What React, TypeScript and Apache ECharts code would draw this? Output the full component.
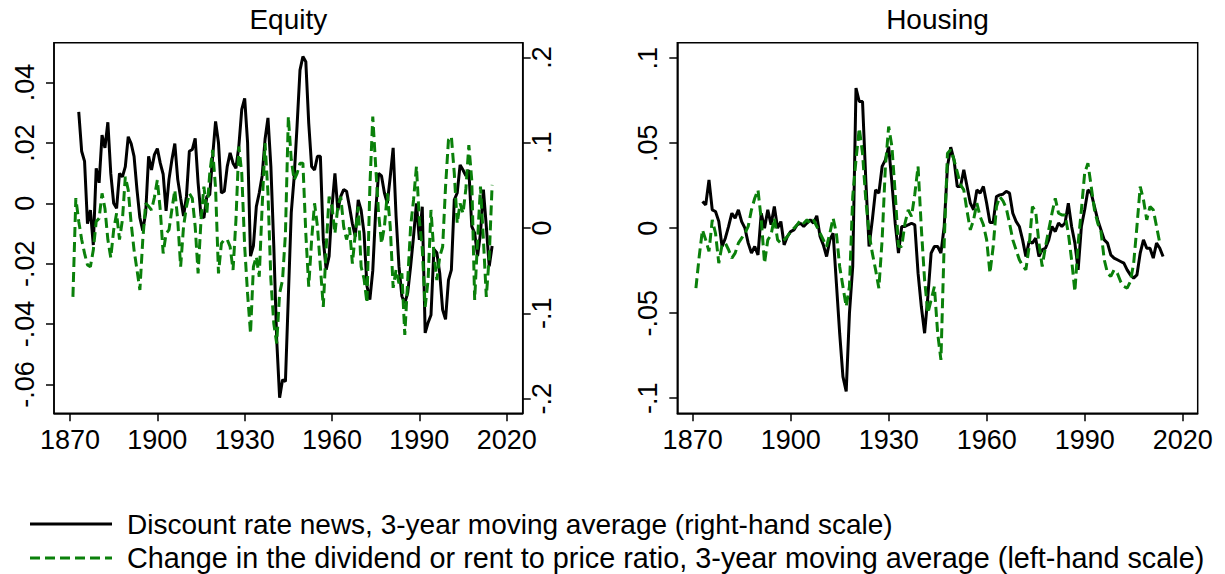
import React, { useEffect, useRef } from "react";
import * as echarts from "echarts";

const FONT = "'Liberation Sans', Arial, Helvetica, sans-serif";

// ---- tick values and labels ----
const yearTicks = [1870, 1900, 1930, 1960, 1990, 2020];
const equityLeftTicks = [-0.06, -0.04, -0.02, 0, 0.02, 0.04];
const equityLeftLabels = ["-.06", "-.04", "-.02", "0", ".02", ".04"];
const equityRightTicks = [-0.2, -0.1, 0, 0.1, 0.2];
const equityRightLabels = ["-.2", "-.1", "0", ".1", ".2"];
const housingTicks = [-0.1, -0.05, 0, 0.05, 0.1];
const housingLabels = ["-.1", "-.05", "0", ".05", ".1"];

const panelTitles = ["Equity", "Housing"];
const newsName = "Discount rate news, 3-year moving average (right-hand scale)";
const ratioName =
  "Change in the dividend or rent to price ratio, 3-year moving average (left-hand scale)";

// ---- Equity: discount rate news (right-hand scale), annual from 1873 ----
const equityNewsStart = 1873;
const equityNews = [
  0.136, 0.09, 0.078, 0.005, 0.021, -0.02, 0.07,
  0.053, 0.109, 0.094, 0.124, 0.064, 0.029, 0.023, 0.064, 0.06, 0.072,
  0.107, 0.099, 0.084, 0.045, 0.012, -0.003, 0.018, 0.084, 0.068, 0.086,
  0.093, 0.076, 0.063, 0.02, 0.057, 0.08, 0.099, 0.057, 0.035, 0.014,
  0.037, 0.09, 0.092, 0.105, 0.053, 0.014, 0.012, 0.037, 0.039, 0.084,
  0.125, 0.1, 0.041, 0.043, 0.072, 0.088, 0.076, 0.07, 0.096, 0.139,
  0.152, 0.1, -0.033, -0.021, 0.025, 0.041, 0.061, 0.104, 0.129, 0.072,
  -0.021, -0.131, -0.199, -0.178, -0.18, -0.08, 0.018, 0.06, 0.12, 0.185,
  0.201, 0.195, 0.123, 0.072, 0.068, 0.084, 0.084, -0.014, -0.049, -0.033,
  0.025, 0.064, 0.021, 0.037, 0.045, 0.043, 0.025, 0.005, -0.01, 0.033,
  0.021, -0.006, -0.068, -0.084, -0.05, 0.02, 0.064, 0.061, 0.041, 0.029,
  0.06, 0.094, 0.014, -0.045, -0.08, -0.088, -0.076, -0.045, -0.01, 0.029,
  -0.014, 0.025, -0.123, -0.111, -0.102, -0.025, -0.029, -0.053, -0.096, -0.107,
  -0.061, -0.049, 0.033, 0.041, 0.074, 0.068, 0.061, 0.068, 0.002, -0.006,
  -0.033, -0.006, 0.045, 0.002, -0.045, -0.021,
];

// ---- Equity: change in dividend-price ratio (left-hand scale), annual from 1871 ----
const equityRatioStart = 1871;
const equityRatio = [
  -0.031, 0.0017, -0.006, -0.012, -0.0166, -0.0204, -0.021, -0.0155, -0.006,
  -0.005, 0.0033, -0.0017, -0.012, -0.018, -0.0088, -0.0033, -0.012, -0.0055, 0.0088,
  0.0044, -0.0066, -0.0155, -0.022, -0.0287, -0.012, 0, -0.001, -0.0022, 0.002,
  0.0077, -0.0022, -0.0166, -0.01, -0.0088, -0.002, 0.0044, -0.0055, -0.021, -0.0077,
  -0.0011, 0.0033, 0.0017, -0.0077, -0.0232, -0.0055, 0.0055, -0.0033, 0.0099, 0.0177,
  0.005, -0.0232, -0.0133, -0.012, -0.012, -0.0144, -0.0221, -0.0055, 0.0188, 0.0099,
  -0.0144, -0.03, -0.0431, -0.021, -0.0177, -0.0243, -0.0011, 0.0199, 0.0033, -0.0254,
  -0.0398, -0.0464, -0.0298, -0.0254, -0.01, 0.0287, 0.0144, 0.0077, 0.0099, 0.0133,
  0.0133, -0.01, -0.0276, -0.012, 0, -0.0077, -0.021, -0.0343, -0.0144, 0.0022,
  -0.0011, -0.01, -0.0011, 0.0022, -0.0077, -0.012, -0.008, -0.02, -0.01, -0.0011,
  -0.021, -0.025, -0.033, 0.0055, 0.0287, 0.0122, -0.0033, -0.0133, -0.0077, 0.0033,
  -0.0077, -0.028, -0.022, -0.0265, -0.0232, -0.0436, -0.0254, -0.0077, 0.0011, 0.0122,
  -0.0055, -0.015, -0.0343, -0.0254, -0.0022, -0.0166, -0.0254, -0.0177, -0.0144, 0.0055,
  0.021, 0.0221, 0.0099, -0.0066, 0, -0.0033, 0.005, 0.0193, 0.0077, -0.032,
  -0.012, 0.0055, -0.012, -0.031, -0.0177, 0.0061,
];

// ---- Housing: discount rate news, annual from 1873 ----
const housingNewsStart = 1873;
const housingNews = [
  0.0157, 0.0137, 0.0284, 0.0108, 0.0098, 0.004, -0.0108,
  -0.0059, 0.001, 0.0088, 0.0059, 0.0108, 0.0039, 0, -0.0088, -0.0147, -0.0108,
  -0.0157, 0.0088, 0, 0.0108, 0.002, 0.0127, 0, 0.0039, -0.0098, -0.0049,
  -0.002, -0.001, 0.002, 0.0029, 0.001, 0.003, 0.0049, 0.003, 0.0073, -0.0049,
  -0.0098, -0.0167, -0.0069, -0.003, -0.0324, -0.0618, -0.0873, -0.0961, -0.05, -0.0225,
  0.0824, 0.0745, 0.0745, 0.0284, -0.0108, 0.0049, 0.0225, 0.0206, 0.0363, 0.0402,
  0.048, 0.0265, 0.0029, -0.0147, 0.001, 0.001, 0.002, 0.0029, 0.002, -0.0265,
  -0.0461, -0.0618, -0.0402, -0.0147, -0.0108, -0.0108, -0.0147, 0.001, 0.0363, 0.0476,
  0.0402, 0.0245, 0.0245, 0.0343, 0.0245, 0.0147, 0.0108, 0.0225, 0.0206, 0.0245,
  0.0147, 0.0033, 0.0033, 0.0186, 0.0196, 0.02, 0.0216, 0.0206, 0.0088, 0.004,
  0.001, -0.0069, -0.0167, -0.0078, -0.0088, -0.0059, -0.0167, -0.0127, -0.0118, -0.0069,
  0.001, -0.002, 0.003, 0.001, 0.003, 0.0147, 0.001, -0.0088, -0.0245, 0.001,
  0.0108, 0.0225, 0.0206, 0.0127, 0.0049, -0.001, -0.0069, -0.0088, -0.0157, -0.0176,
  -0.0186, -0.0196, -0.0206, -0.0245, -0.0275, -0.0294, -0.0275, -0.0147, -0.0069, -0.0118,
  -0.0118, -0.0176, -0.0088, -0.0118, -0.0167,
];

// ---- Housing: change in rent-price ratio, annual from 1871 ----
const housingRatioStart = 1871;
const housingRatio = [
  -0.0353, -0.0167, -0.001, -0.0069, -0.0137, 0.0049, -0.003, -0.0206, -0.0098,
  -0.0088, -0.0127, -0.0176, -0.0147, -0.0088, -0.0059, -0.003, 0.001, 0.0108, 0.0176,
  0.0225, 0.005, -0.0206, -0.0069, -0.0039, 0.0059, -0.0069, -0.0088, -0.0069, -0.0049,
  -0.002, 0, 0.002, 0.0049, 0.0029, 0.0049, 0.0029, 0.0049, 0.001, -0.003,
  -0.0069, -0.0108, -0.003, 0.0059, -0.003, -0.0225, -0.0343, -0.0461, -0.0343, 0.0186,
  0.0402, 0.0588, 0.0441, 0.0167, -0.003, -0.0147, -0.0245, -0.0353, -0.0069, 0.0363,
  0.0598, 0.048, 0.0206, -0.0108, -0.0108, 0.0029, 0.0108, 0.0069, 0.02, 0.0363,
  0.0, -0.0304, -0.05, -0.0422, -0.0343, -0.0618, -0.0775, -0.0088, 0.0441, 0.0461,
  0.0402, 0.033, 0.0255, 0.0225, 0.01, -0.001, 0.005, 0.0147, 0.0069, 0.002,
  -0.0069, -0.0265, -0.0108, 0.0127, 0.0186, 0.016, 0.0118, 0.0029, -0.0069, -0.0127,
  -0.0186, -0.022, -0.0245, -0.0108, 0.0127, 0.01, -0.0088, -0.0225, -0.0108, -0.001,
  0.0088, 0.0176, 0.0088, 0.0078, 0.0078, -0.003, -0.0186, -0.0373, -0.0088, 0.0108,
  0.0324, 0.0382, 0.0245, 0.0108, 0.0029, -0.002, -0.0186, -0.0265, -0.0284, -0.0245,
  -0.0265, -0.0314, -0.0343, -0.0353, -0.0314, -0.0206, 0.001, 0.0245, 0.0167, 0.0049,
  0.0127, 0.0108, 0.001, -0.0088,
];

const toPairs = (start: number, vals: number[]) => vals.map((v, i) => [start + i, v]);

const labelFor = (ticks: number[], labels: string[]) => (v: number) => {
  const i = ticks.findIndex((t) => Math.abs(t - v) < 1e-9);
  return i >= 0 ? labels[i] : "";
};

const BLACK = "#000000";
const GREEN = "#0a800a";
const TICK_FONT = 27;
const LINE_W = 3;
const DASH = [10, 5];

function xAxis(gridIndex: number, min: number, max: number) {
  return {
    type: "value",
    gridIndex,
    min,
    max,
    axisLine: { show: true, onZero: false, lineStyle: { color: BLACK, width: 1.5 } },
    axisTick: { show: true, length: 8, lineStyle: { color: BLACK, width: 1.5 }, customValues: yearTicks },
    axisLabel: {
      customValues: yearTicks,
      margin: 13,
      color: BLACK,
      fontSize: TICK_FONT,
      fontFamily: FONT,
      formatter: (v: number) => String(v),
    },
    splitLine: { show: false },
  };
}

function yAxis(
  gridIndex: number,
  position: "left" | "right",
  min: number,
  max: number,
  ticks: number[],
  labels: string[],
  margin: number
) {
  return {
    type: "value",
    gridIndex,
    position,
    min,
    max,
    axisLine: { show: true, onZero: false, lineStyle: { color: BLACK, width: 1.5 } },
    axisTick: { show: true, length: 8, lineStyle: { color: BLACK, width: 1.5 }, customValues: ticks },
    axisLabel: {
      customValues: ticks,
      rotate: 90,
      margin,
      color: BLACK,
      fontSize: TICK_FONT,
      fontFamily: FONT,
      formatter: labelFor(ticks, labels),
    },
    splitLine: { show: false },
  };
}

export default function App() {
  const ref = useRef<HTMLDivElement>(null);

  useEffect(() => {
    if (!ref.current) return;
    const chart = echarts.init(ref.current, undefined, { renderer: "svg" });
    const lineNews = { color: BLACK, width: LINE_W, type: "solid" };
    const lineRatio = { color: GREEN, width: LINE_W, type: DASH };
    const option: any = {
      animation: false,
      backgroundColor: "#ffffff",
      textStyle: { fontFamily: FONT },
      grid: [
        { left: 54, top: 42.7, width: 468.7, height: 370.6, show: true, borderColor: BLACK, borderWidth: 1.5, backgroundColor: "transparent" },
        { left: 677.3, top: 42.7, width: 520.4, height: 370.6, show: true, borderColor: BLACK, borderWidth: 1.5, backgroundColor: "transparent" },
      ],
      xAxis: [xAxis(0, 1864.5, 2025.5), xAxis(1, 1865.3, 2024.6)],
      yAxis: [
        yAxis(0, "left", -0.06954, 0.05318, equityLeftTicks, equityLeftLabels, 16),
        yAxis(0, "right", -0.2172, 0.2172, equityRightTicks, equityRightLabels, 6),
        yAxis(1, "left", -0.1089, 0.1091, housingTicks, housingLabels, 16),
      ],
      graphic: [
        { type: "text", x: 288.3, y: 19, style: { text: panelTitles[0], font: `28px ${FONT}`, fill: BLACK, textAlign: "center", textVerticalAlign: "middle" } },
        { type: "text", x: 937.5, y: 19, style: { text: panelTitles[1], font: `28px ${FONT}`, fill: BLACK, textAlign: "center", textVerticalAlign: "middle" } },
        { type: "line", shape: { x1: 30, y1: 524, x2: 112, y2: 524 }, style: { stroke: BLACK, lineWidth: LINE_W } },
        { type: "text", x: 127, y: 524, style: { text: newsName, font: `28px ${FONT}`, fill: BLACK, textAlign: "left", textVerticalAlign: "middle" } },
        { type: "line", shape: { x1: 30, y1: 558, x2: 112, y2: 558 }, style: { stroke: GREEN, lineWidth: LINE_W, lineDash: DASH } },
        { type: "text", x: 127, y: 558, style: { text: ratioName, font: `28.8px ${FONT}`, fill: BLACK, textAlign: "left", textVerticalAlign: "middle" } },
      ],
      series: [
        { name: newsName, type: "line", xAxisIndex: 0, yAxisIndex: 1, data: toPairs(equityNewsStart, equityNews), showSymbol: false, symbol: "none", lineStyle: lineNews, itemStyle: { color: BLACK }, z: 2 },
        { name: ratioName, type: "line", xAxisIndex: 0, yAxisIndex: 0, data: toPairs(equityRatioStart, equityRatio), showSymbol: false, symbol: "none", lineStyle: lineRatio, itemStyle: { color: GREEN }, z: 3 },
        { name: newsName, type: "line", xAxisIndex: 1, yAxisIndex: 2, data: toPairs(housingNewsStart, housingNews), showSymbol: false, symbol: "none", lineStyle: lineNews, itemStyle: { color: BLACK }, z: 2 },
        { name: ratioName, type: "line", xAxisIndex: 1, yAxisIndex: 2, data: toPairs(housingRatioStart, housingRatio), showSymbol: false, symbol: "none", lineStyle: lineRatio, itemStyle: { color: GREEN }, z: 3 },
      ],
    };
    chart.setOption(option);
    return () => chart.dispose();
  }, []);

  return (
    <div
      ref={ref}
      style={{ position: "absolute", left: 0, top: 0, width: 1225, height: 574, background: "#fff" }}
    />
  );
}
